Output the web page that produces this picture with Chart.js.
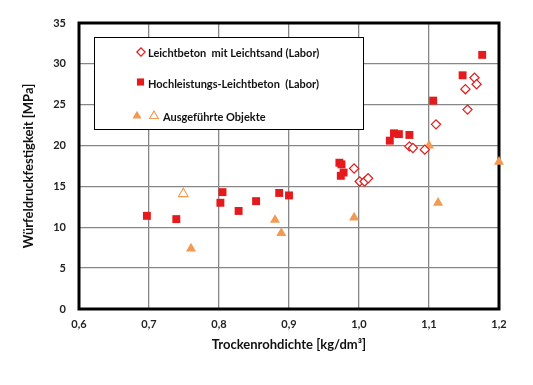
<!DOCTYPE html>
<html>
<head>
<meta charset="utf-8">
<script src="https://cdn.jsdelivr.net/npm/chart.js@4"></script>
<style>
  html, body { margin: 0; padding: 0; background: #fff; }
  #wrap { width: 533px; height: 385px; position: relative; }
</style>
</head>
<body>
<div id="wrap"><canvas id="chart"></canvas></div>
<script>
// ==================== DATA ====================
const labelLeichtsand = 'Leichtbeton  mit Leichtsand (Labor)';
const labelHochleistung = 'Hochleistungs-Leichtbeton  (Labor)';
const labelObjekte = 'Ausgeführte Objekte';

const leichtsandX = [0.993, 1.001, 1.008, 1.013, 1.072, 1.077, 1.094, 1.110, 1.152, 1.155, 1.165, 1.168];
const leichtsandY = [17.2, 15.6, 15.6, 16.0, 19.9, 19.7, 19.5, 22.6, 26.9, 24.4, 28.3, 27.5];

const hochX = [0.697, 0.739, 0.802, 0.805, 0.828, 0.853, 0.886, 0.900, 0.972, 0.975, 0.978, 0.974, 1.044, 1.050, 1.057, 1.072, 1.106, 1.148, 1.176];
const hochY = [11.4, 11.0, 13.0, 14.3, 12.0, 13.2, 14.2, 13.9, 17.9, 17.7, 16.7, 16.3, 20.6, 21.5, 21.4, 21.3, 25.5, 28.6, 31.1];

const objekteX = [0.760, 0.880, 0.889, 0.993, 1.100, 1.113, 1.200];
const objekteY = [7.4, 10.9, 9.3, 11.2, 20.0, 13.0, 18.0];

const objekteOffenX = [0.749];
const objekteOffenY = [14.1];

const xTitle = 'Trockenrohdichte [kg/dm³]';
const yTitle = 'Würfeldruckfestigkeit [MPa]';

// ==================== STYLE ====================
const RED = '#e41a1c';
const ORANGE = '#f29a52';
const GRID = '#878787';
const FONT = 'Lato, "Open Sans", sans-serif';

const toPoints = (xs, ys) => xs.map((x, i) => ({ x: x, y: ys[i] }));

const dsDiamond = {
    label: labelLeichtsand,
    data: toPoints(leichtsandX, leichtsandY),
    pointStyle: 'rectRot', pointRadius: 4.6,
    backgroundColor: '#fff', borderColor: RED, borderWidth: 1.2
};
const dsSquare = {
    label: labelHochleistung,
    data: toPoints(hochX, hochY),
    pointStyle: 'rect', pointRadius: 5.6,
    backgroundColor: RED, borderColor: RED, borderWidth: 0
};
const dsTri = {
    label: labelObjekte,
    data: toPoints(objekteX, objekteY),
    pointStyle: 'triangle', pointRadius: 5.8,
    backgroundColor: ORANGE, borderColor: ORANGE, borderWidth: 0
};
const dsTriOpen = {
    label: labelObjekte + ' (offen)',
    data: toPoints(objekteOffenX, objekteOffenY),
    pointStyle: 'triangle', pointRadius: 5.6,
    backgroundColor: '#fff', borderColor: ORANGE, borderWidth: 1.1
};

// frame round the plot area + legend box
const framePlugin = {
    id: 'frame',
    beforeDatasetsDraw(chart) {
        const { ctx, chartArea: a } = chart;
        ctx.save();
        ctx.strokeStyle = '#000';
        ctx.lineWidth = 3;
        ctx.strokeRect(a.left, a.top, a.right - a.left, a.bottom - a.top);
        ctx.restore();
    },
    afterDatasetsDraw(chart) {
        const ctx = chart.ctx;
        const box = { x: 94.5, y: 37.5, w: 269, h: 92 };
        ctx.save();
        ctx.fillStyle = '#fff';
        ctx.fillRect(box.x, box.y, box.w, box.h);
        ctx.strokeStyle = '#000';
        ctx.lineWidth = 1;
        ctx.strokeRect(box.x, box.y, box.w, box.h);

        const draw = (ds, x, y) => {
            Chart.helpers.drawPoint(ctx, {
                pointStyle: ds.pointStyle, radius: ds.pointRadius * 0.9, rotation: 0,
                borderWidth: ds.borderWidth
            }, x, y);
        };
        const mark = (ds, x, y) => {
            ctx.fillStyle = ds.backgroundColor;
            ctx.strokeStyle = ds.borderColor;
            ctx.lineWidth = ds.borderWidth || 0.01;
            draw(ds, x, y);
        };
        mark(dsDiamond, 141, 52);
        mark(dsSquare, 140.5, 82);
        mark(dsTri, 137, 116);
        mark(dsTriOpen, 154, 116);

        ctx.fillStyle = '#111';
        ctx.font = 'bold 11px ' + FONT;
        ctx.textBaseline = 'middle';
        ctx.textAlign = 'left';
        ctx.fillText(labelLeichtsand, 148, 53);
        ctx.fillText(labelHochleistung, 148, 84);
        ctx.fillText(labelObjekte, 163, 117);
        ctx.restore();
    }
};

new Chart(document.getElementById('chart'), {
    type: 'scatter',
    data: { datasets: [dsDiamond, dsSquare, dsTri, dsTriOpen] },
    options: {
        responsive: true,
        maintainAspectRatio: false,
        animation: false,
        layout: { padding: { left: 0, top: 23, right: 34, bottom: 0 } },
        elements: { point: { hoverRadius: 6 } },
        datasets: { scatter: { clip: false } },
        plugins: { legend: { display: false }, tooltip: { enabled: false } },
        scales: {
            x: {
                type: 'linear', min: 0.6, max: 1.2,
                afterFit(s) { s.height = 76; },
                border: { display: false },
                grid: { color: GRID, lineWidth: 1.3, drawTicks: false },
                ticks: {
                    stepSize: 0.1, padding: 9, color: '#222',
                    font: { family: FONT, size: 11, weight: 'bold' },
                    callback: v => v.toFixed(1).replace('.', ',')
                },
                title: {
                    display: true, text: xTitle, color: '#111',
                    font: { family: FONT, size: 13, weight: 'bold' },
                    padding: { top: 0, bottom: 32 }
                }
            },
            y: {
                type: 'linear', min: 0, max: 35,
                afterFit(s) { s.width = 79; },
                border: { display: false },
                grid: { color: GRID, lineWidth: 1.3, drawTicks: false },
                ticks: {
                    stepSize: 5, padding: 13, color: '#222',
                    font: { family: FONT, size: 11, weight: 'bold' }
                },
                title: {
                    display: true, text: yTitle, color: '#111',
                    font: { family: FONT, size: 13, weight: 'bold' },
                    padding: { top: 21, bottom: 0 }
                }
            }
        }
    },
    plugins: [framePlugin]
});
</script>
</body>
</html>
